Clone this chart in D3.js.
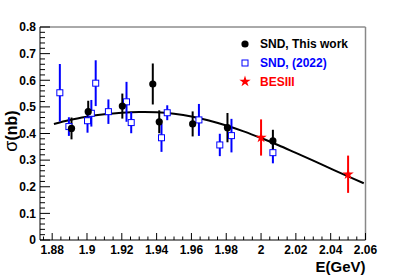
<!DOCTYPE html>
<html><head><meta charset="utf-8">
<script src="https://cdn.jsdelivr.net/npm/d3@7"></script>
<style>
body{margin:0;background:#fff;}
svg{display:block;font-family:"Liberation Sans",Arial,Helvetica,sans-serif;font-weight:bold;}
</style></head>
<body>
<svg id="c" width="407" height="278"></svg>
<script>
// SND, This work
const sndE   = [1.8911, 1.9007, 1.9203, 1.9378, 1.9415, 1.9607, 1.9807, 2.0068];
const sndS   = [0.419, 0.482, 0.503, 0.586, 0.444, 0.436, 0.422, 0.372];
const sndErr = [0.041, 0.041, 0.047, 0.077, 0.043, 0.047, 0.055, 0.042];
// SND (2022)
const snd22E   = [1.8844, 1.8896, 1.9003, 1.9025, 1.905, 1.9123, 1.9227, 1.9254, 1.9428, 1.9461, 1.9643, 1.9763, 1.983, 2.0068];
const snd22S   = [0.553, 0.426, 0.448, 0.476, 0.589, 0.482, 0.519, 0.441, 0.384, 0.478, 0.451, 0.357, 0.392, 0.328];
const snd22Err = [0.108, 0.035, 0.045, 0.05, 0.086, 0.046, 0.075, 0.04, 0.053, 0.028, 0.06, 0.042, 0.063, 0.04];
// BESIII
const besE   = [2.0, 2.05];
const besS   = [0.385, 0.247];
const besErr = [0.068, 0.07];
// fit curve
const fitE = [1.881, 1.89, 1.90, 1.91, 1.92, 1.93, 1.94, 1.95, 1.96, 1.97, 1.98, 1.99, 2.00, 2.01, 2.02, 2.03, 2.04, 2.05, 2.059];
const fitS = [0.436, 0.451, 0.463, 0.472, 0.478, 0.481, 0.480, 0.474, 0.464, 0.449, 0.430, 0.408, 0.383, 0.356, 0.327, 0.298, 0.268, 0.239, 0.213];
// axis ticks
const xTicks = [1.88, 1.90, 1.92, 1.94, 1.96, 1.98, 2.00, 2.02, 2.04, 2.06];
const xTickLabels = ["1.88", "1.9", "1.92", "1.94", "1.96", "1.98", "2", "2.02", "2.04", "2.06"];
const yTicks = [0, 0.1, 0.2, 0.3, 0.4, 0.5, 0.6, 0.7, 0.8];
const yTickLabels = ["0", "0.1", "0.2", "0.3", "0.4", "0.5", "0.6", "0.7", "0.8"];
const legendLabels = ["SND, This work", "SND, (2022)", "BESIII"];
const legendColors = ["#000000", "#0000ff", "#ff0000"];

const L = 40, R = 365.5, T = 27, B = 240;
const x = d3.scaleLinear().domain([1.873, 2.06]).range([L, R]);
const y = d3.scaleLinear().domain([0, 0.8]).range([B, T]);
const svg = d3.select("#c");

// frame
svg.append("line").attr("x1", L).attr("x2", R).attr("y1", T).attr("y2", T).attr("stroke", "#555");
svg.append("line").attr("x1", R).attr("x2", R).attr("y1", T).attr("y2", B).attr("stroke", "#888").attr("stroke-width", 1.5);
svg.append("line").attr("x1", L).attr("x2", L).attr("y1", T).attr("y2", B).attr("stroke", "#000");
svg.append("line").attr("x1", L).attr("x2", R).attr("y1", B).attr("y2", B).attr("stroke", "#000");

// x axis ticks (inside, upward)
const xMinor = d3.range(1.875, 2.0601, 0.005);
const gx = svg.append("g");
xMinor.forEach(v => {
  const isMaj = xTicks.some(t => Math.abs(t - v) < 1e-6);
  gx.append("line").attr("x1", x(v)).attr("x2", x(v)).attr("y1", B).attr("y2", B - (isMaj ? 7 : 3.5))
    .attr("stroke", "#000").attr("stroke-width", 1);
});
xTicks.forEach((v, i) => {
  gx.append("text").attr("x", x(v)).attr("y", 254).attr("text-anchor", "middle")
    .attr("font-size", 12).text(xTickLabels[i]);
});
// y axis ticks
const yMinor = d3.range(0, 0.8001, 0.02);
const gy = svg.append("g");
yMinor.forEach(v => {
  const isMaj = yTicks.some(t => Math.abs(t - v) < 1e-6);
  gy.append("line").attr("x1", L).attr("x2", L + (isMaj ? 10 : 5)).attr("y1", y(v)).attr("y2", y(v))
    .attr("stroke", "#000").attr("stroke-width", 1);
});
yTicks.forEach((v, i) => {
  gy.append("text").attr("x", 36).attr("y", y(v) + 4.3).attr("text-anchor", "end")
    .attr("font-size", 12).text(yTickLabels[i]);
});

// axis titles
svg.append("text").attr("x", R).attr("y", 272).attr("text-anchor", "end").attr("font-size", 15).text("E(GeV)");
const yt = svg.append("text").attr("transform", `translate(17,131) rotate(-90)`).attr("text-anchor", "middle")
  .attr("font-size", 16);
yt.append("tspan").attr("font-size", 18).attr("font-weight", "normal").text("σ");
yt.append("tspan").text("(nb)");

// fit curve
svg.append("path").datum(fitE.map((e, i) => [e, fitS[i]]))
  .attr("d", d3.line().x(d => x(d[0])).y(d => y(d[1])).curve(d3.curveCatmullRom))
  .attr("fill", "none").attr("stroke", "#000").attr("stroke-width", 2);

function errBars(E, S, Err, color) {
  const g = svg.append("g");
  E.forEach((e, i) => {
    g.append("line").attr("x1", x(e)).attr("x2", x(e)).attr("y1", y(S[i] - Err[i])).attr("y2", y(S[i] + Err[i]))
      .attr("stroke", color).attr("stroke-width", 2);
  });
}
errBars(snd22E, snd22S, snd22Err, "#0000ff");
errBars(besE, besS, besErr, "#ff0000");
errBars(sndE, sndS, sndErr, "#000");

// markers
svg.append("g").selectAll("rect").data(snd22E).join("rect")
  .attr("x", (d) => x(d) - 3).attr("y", (d, i) => y(snd22S[i]) - 3).attr("width", 6).attr("height", 6)
  .attr("fill", "#fff").attr("stroke", "#0000ff").attr("stroke-width", 1);
const star = d3.symbol().type(d3.symbolStar).size(40);
svg.append("g").selectAll("path").data(besE).join("path")
  .attr("transform", (d, i) => `translate(${x(d)},${y(besS[i])})`).attr("d", star).attr("fill", "#ff0000");
svg.append("g").selectAll("circle").data(sndE).join("circle")
  .attr("cx", d => x(d)).attr("cy", (d, i) => y(sndS[i])).attr("r", 3.6).attr("fill", "#000");

// legend
const lg = svg.append("g");
const ly = [44, 63, 81.5];
lg.append("circle").attr("cx", 245).attr("cy", ly[0]).attr("r", 3.6).attr("fill", "#000");
lg.append("rect").attr("x", 242).attr("y", ly[1] - 3).attr("width", 6).attr("height", 6)
  .attr("fill", "#fff").attr("stroke", "#0000ff");
lg.append("path").attr("transform", `translate(245,${ly[2]})`).attr("d", star).attr("fill", "#ff0000");
legendLabels.forEach((t, i) => {
  lg.append("text").attr("x", 260).attr("y", ly[i] + 4.3).attr("font-size", 12).attr("fill", legendColors[i]).text(t);
});
</script>
</body></html>
